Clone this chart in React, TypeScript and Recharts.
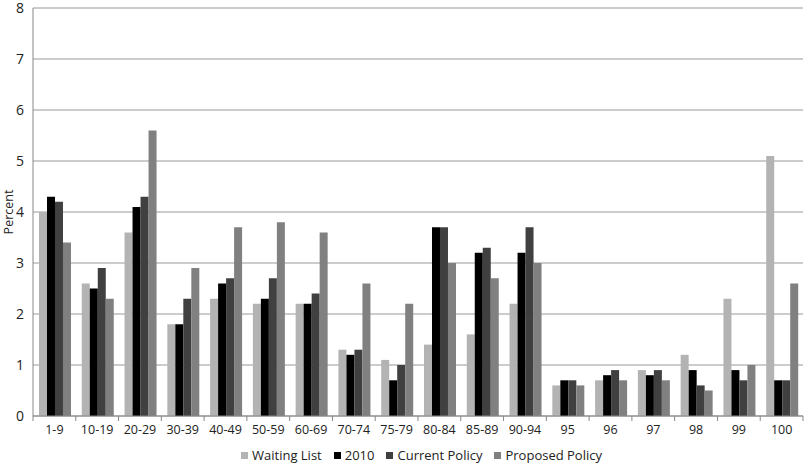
import { BarChart, Bar, XAxis, YAxis, CartesianGrid, Legend } from "recharts";

const categories = ["1-9", "10-19", "20-29", "30-39", "40-49", "50-59", "60-69", "70-74", "75-79", "80-84", "85-89", "90-94", "95", "96", "97", "98", "99", "100"];
const waitingList = [4.0, 2.6, 3.6, 1.8, 2.3, 2.2, 2.2, 1.3, 1.1, 1.4, 1.6, 2.2, 0.6, 0.7, 0.9, 1.2, 2.3, 5.1];
const year2010 = [4.3, 2.5, 4.1, 1.8, 2.6, 2.3, 2.2, 1.2, 0.7, 3.7, 3.2, 3.2, 0.7, 0.8, 0.8, 0.9, 0.9, 0.7];
const currentPolicy = [4.2, 2.9, 4.3, 2.3, 2.7, 2.7, 2.4, 1.3, 1.0, 3.7, 3.3, 3.7, 0.7, 0.9, 0.9, 0.6, 0.7, 0.7];
const proposedPolicy = [3.4, 2.3, 5.6, 2.9, 3.7, 3.8, 3.6, 2.6, 2.2, 3.0, 2.7, 3.0, 0.6, 0.7, 0.7, 0.5, 1.0, 2.6];
const yTicks = [0, 1, 2, 3, 4, 5, 6, 7, 8];

const series = [
  { key: "waiting", name: "Waiting List", color: "#b3b3b3" },
  { key: "y2010", name: "2010", color: "#000000" },
  { key: "current", name: "Current Policy", color: "#404040" },
  { key: "proposed", name: "Proposed Policy", color: "#808080" },
];

const data = categories.map((name, i) => ({
  name,
  waiting: waitingList[i],
  y2010: year2010[i],
  current: currentPolicy[i],
  proposed: proposedPolicy[i],
}));

const W = 805;
const H = 465;
const LEFT = 33;
const RIGHT = 2;
const BAND = (W - LEFT - RIGHT) / categories.length;
const FONT = "'Open Sans', 'Liberation Sans', sans-serif";

function XTick(props: any) {
  const { x, y, payload, index } = props;
  const axisY = y - 9;
  const last = index === categories.length - 1;
  return (
    <g>
      <line x1={x - BAND / 2} x2={x - BAND / 2} y1={axisY} y2={axisY + 5} stroke="#888" />
      {last && <line x1={x + BAND / 2} x2={x + BAND / 2} y1={axisY} y2={axisY + 5} stroke="#888" />}
      <text x={x} y={y} dy="0.71em" textAnchor="middle" fill="#222" fontSize={12.5} fontFamily={FONT}>
        {payload.value}
      </text>
    </g>
  );
}

function YLabel(props: any) {
  const { viewBox } = props;
  const cy = viewBox.y + viewBox.height / 2;
  return (
    <text x={12.5} y={cy} transform={`rotate(-90 12.5 ${cy})`} textAnchor="middle" fill="#222" fontSize={12.5} fontFamily={FONT}>
      Percent
    </text>
  );
}

function LegendBox() {
  return (
    <div style={{ display: "flex", justifyContent: "center", gap: 12, fontFamily: FONT, fontSize: 13, color: "#222", paddingLeft: 40 }}>
      {series.map((s) => (
        <span key={s.key} style={{ display: "flex", alignItems: "center" }}>
          <span style={{ width: 7, height: 7, background: s.color, marginRight: 4, display: "inline-block" }} />
          {s.name}
        </span>
      ))}
    </div>
  );
}

export default function App() {
  return (
    <div style={{ position: "fixed", left: 0, top: 0, width: W, height: H, background: "#fff" }}>
      <BarChart
        width={W}
        height={H}
        data={data}
        margin={{ top: 8, right: RIGHT, bottom: 0, left: 0 }}
        barCategoryGap="14%"
        barGap={0}
      >
        <CartesianGrid vertical={false} stroke="#999" />
        <XAxis
          dataKey="name"
          tick={<XTick />}
          tickLine={false}
          tickSize={5}
          tickMargin={4}
          interval={0}
          stroke="#888"
          height={30}
        />
        <YAxis
          domain={[0, 8]}
          ticks={yTicks}
          tickLine={false}
          axisLine={{ stroke: "#888" }}
          width={LEFT}
          tick={{ fill: "#222", fontSize: 14, fontFamily: FONT }}
          tickSize={5}
          tickMargin={4}
          label={<YLabel />}
        />
        <Legend verticalAlign="bottom" height={19} content={<LegendBox />} />
        {series.map((s) => (
          <Bar key={s.key} dataKey={s.key} name={s.name} fill={s.color} isAnimationActive={false} />
        ))}
      </BarChart>
    </div>
  );
}
